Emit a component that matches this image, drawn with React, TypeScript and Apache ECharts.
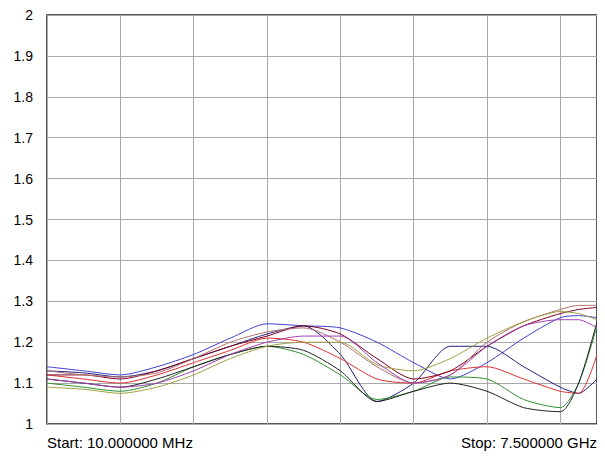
import * as echarts from "echarts";
import { useEffect, useRef } from "react";

const xs = [0, 0.5, 1, 1.5, 2, 2.5, 3, 3.5, 4, 4.5, 5, 5.5, 6, 6.5, 7, 7.25, 7.5];

const blue = [1.14, 1.13, 1.12, 1.14, 1.17, 1.21, 1.245, 1.24, 1.235, 1.2, 1.15, 1.11, 1.15, 1.21, 1.26, 1.265, 1.26];
const navy = [1.13, 1.125, 1.115, 1.13, 1.16, 1.19, 1.22, 1.24, 1.17, 1.055, 1.1, 1.19, 1.19, 1.14, 1.09, 1.075, 1.11];
const red = [1.12, 1.11, 1.1, 1.12, 1.15, 1.18, 1.21, 1.2, 1.16, 1.11, 1.1, 1.13, 1.14, 1.11, 1.08, 1.075, 1.17];
const maroon = [1.12, 1.12, 1.11, 1.13, 1.16, 1.19, 1.215, 1.24, 1.22, 1.16, 1.11, 1.13, 1.19, 1.24, 1.27, 1.28, 1.285];
const rosy = [1.13, 1.12, 1.115, 1.125, 1.16, 1.2, 1.225, 1.235, 1.2, 1.14, 1.1, 1.12, 1.2, 1.25, 1.28, 1.29, 1.29];
const green = [1.1, 1.09, 1.08, 1.1, 1.14, 1.17, 1.19, 1.17, 1.12, 1.06, 1.08, 1.115, 1.11, 1.06, 1.04, 1.1, 1.24];
const black = [1.11, 1.1, 1.09, 1.11, 1.14, 1.17, 1.19, 1.18, 1.13, 1.055, 1.08, 1.1, 1.08, 1.04, 1.03, 1.1, 1.25];
const olive = [1.09, 1.085, 1.075, 1.09, 1.12, 1.16, 1.19, 1.2, 1.2, 1.145, 1.13, 1.16, 1.21, 1.25, 1.275, 1.27, 1.255];
const purple = [1.11, 1.1, 1.09, 1.1, 1.13, 1.17, 1.2, 1.215, 1.215, 1.15, 1.1, 1.12, 1.19, 1.24, 1.255, 1.255, 1.235];

const seriesList: [string, number[]][] = [
  ["#4040d0", blue],
  ["#20207a", navy],
  ["#e03030", red],
  ["#800020", maroon],
  ["#b07070", rosy],
  ["#309030", green],
  ["#202020", black],
  ["#a0a040", olive],
  ["#a040b0", purple],
];

export default function App() {
  const ref = useRef<HTMLDivElement>(null);

  useEffect(() => {
    if (!ref.current) return;
    const chart = echarts.init(ref.current, null, { renderer: "svg" });
    chart.setOption({
      animation: false,
      grid: {
        left: 39,
        top: 5,
        width: 550,
        height: 411,
        show: true,
        borderColor: "#202020",
        borderWidth: 1.5,
      },
      xAxis: {
        type: "value",
        min: 0,
        max: 7.5,
        interval: 1,
        axisLabel: { show: false },
        axisTick: { show: false },
        axisLine: { show: false },
        splitLine: { lineStyle: { color: "#a8a8a8", width: 1 } },
      },
      yAxis: {
        type: "value",
        min: 1,
        max: 2,
        interval: 0.1,
        axisTick: { show: false },
        axisLine: { show: false },
        axisLabel: {
          color: "#000",
          fontFamily: "Arial, Liberation Sans",
          fontSize: 14,
          margin: 14,
          formatter: (v: number) => String(Math.round(v * 10) / 10),
        },
        splitLine: { lineStyle: { color: "#a8a8a8", width: 1 } },
      },
      graphic: [
        {
          type: "text",
          left: 39,
          top: 427,
          style: { text: "Start: 10.000000 MHz", fill: "#000", font: "15px Arial, Liberation Sans" },
        },
        {
          type: "text",
          right: 8,
          top: 427,
          style: { text: "Stop: 7.500000 GHz", fill: "#000", font: "15px Arial, Liberation Sans" },
        },
      ],
      series: seriesList.map(([color, vals]) => ({
        type: "line",
        data: xs.map((x, i) => [x, vals[i]]),
        smooth: 0.25,
        showSymbol: false,
        lineStyle: { color, width: 1 },
      })),
    });
    return () => chart.dispose();
  }, []);

  return <div ref={ref} style={{ width: 597, height: 452 }} />;
}
